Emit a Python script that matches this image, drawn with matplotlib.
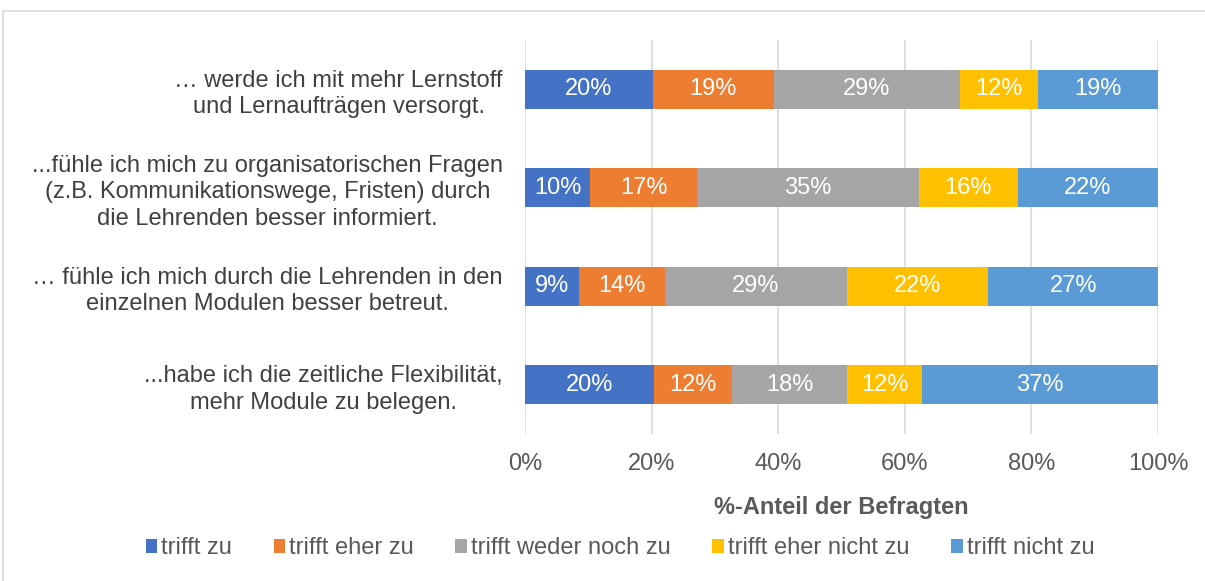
import matplotlib
matplotlib.use("Agg")
import matplotlib.pyplot as plt
from matplotlib.patches import Rectangle
import numpy as np

plt.rcParams['font.family'] = ['Liberation Sans', 'DejaVu Sans']

categories = [
    "… werde ich mit mehr Lernstoff\nund Lernaufträgen versorgt.",
    "...fühle ich mich zu organisatorischen Fragen\n(z.B. Kommunikationswege, Fristen) durch\ndie Lehrenden besser informiert.",
    "… fühle ich mich durch die Lehrenden in den\neinzelnen Modulen besser betreut.",
    "...habe ich die zeitliche Flexibilität,\nmehr Module zu belegen.",
]
series_names = ["trifft zu", "trifft eher zu", "trifft weder noch zu",
                "trifft eher nicht zu", "trifft nicht zu"]
trifft_zu = [20.2, 10.3, 8.6, 20.4]
trifft_eher_zu = [19.1, 16.9, 13.5, 12.3]
trifft_weder_noch = [29.4, 35.0, 28.7, 18.2]
trifft_eher_nicht = [12.3, 15.7, 22.4, 11.8]
trifft_nicht_zu = [19.0, 22.1, 26.8, 37.3]
xticks = [0, 20, 40, 60, 80, 100]
xticklabels = ["0%", "20%", "40%", "60%", "80%", "100%"]

colors = ["#4472C4", "#ED7D31", "#A5A5A5", "#FFC000", "#5B9BD5"]
series = [trifft_zu, trifft_eher_zu, trifft_weder_noch, trifft_eher_nicht, trifft_nicht_zu]

FS = 17

fig = plt.figure(figsize=(12.05, 5.81), dpi=100)
fig.patches.append(Rectangle((3/1205, -0.1), 1.1, 1 - 11/581 + 0.1,
                             transform=fig.transFigure, fill=False,
                             edgecolor="#d9d9d9", linewidth=1.2))
ax = fig.add_axes([525/1205, 1 - 434/581, (1158-525)/1205, (434-40)/581])

y = np.arange(len(categories))
left = np.zeros(len(categories))
for name, vals, col in zip(series_names, series, colors):
    vals = np.array(vals)
    bars = ax.barh(y, vals, left=left, height=0.4, color=col, label=name, zorder=3)
    ax.bar_label(bars, labels=[f"{v:.0f}%" for v in vals], label_type="center",
                 color="white", fontsize=FS)
    left += vals

ax.set_xlim(0, 100)
ax.set_ylim(3.5, -0.5)
ax.set_yticks(y)
ax.set_yticklabels(categories, fontsize=FS, color="#404040",
                   multialignment="center", linespacing=1.25)
ax.set_xticks(xticks)
ax.set_xticklabels(xticklabels, fontsize=FS, color="#595959")
ax.tick_params(axis="y", length=0, pad=16)
ax.tick_params(axis="x", length=0, pad=14)
ax.grid(axis="x", color="#d9d9d9", linewidth=1.2, zorder=0)
for s in ax.spines.values():
    s.set_visible(False)
ax.set_xlabel("%-Anteil der Befragten", fontsize=FS, fontweight="bold",
              color="#595959", labelpad=15)

leg = fig.legend(loc="center", bbox_to_anchor=(620/1205, 1 - 548/581), ncol=5,
                 frameon=False, fontsize=FS, handlelength=0.5, handleheight=0.55,
                 handletextpad=0.17, columnspacing=1.75)
for t in leg.get_texts():
    t.set_color("#595959")

fig.savefig("out.png", dpi=100)
